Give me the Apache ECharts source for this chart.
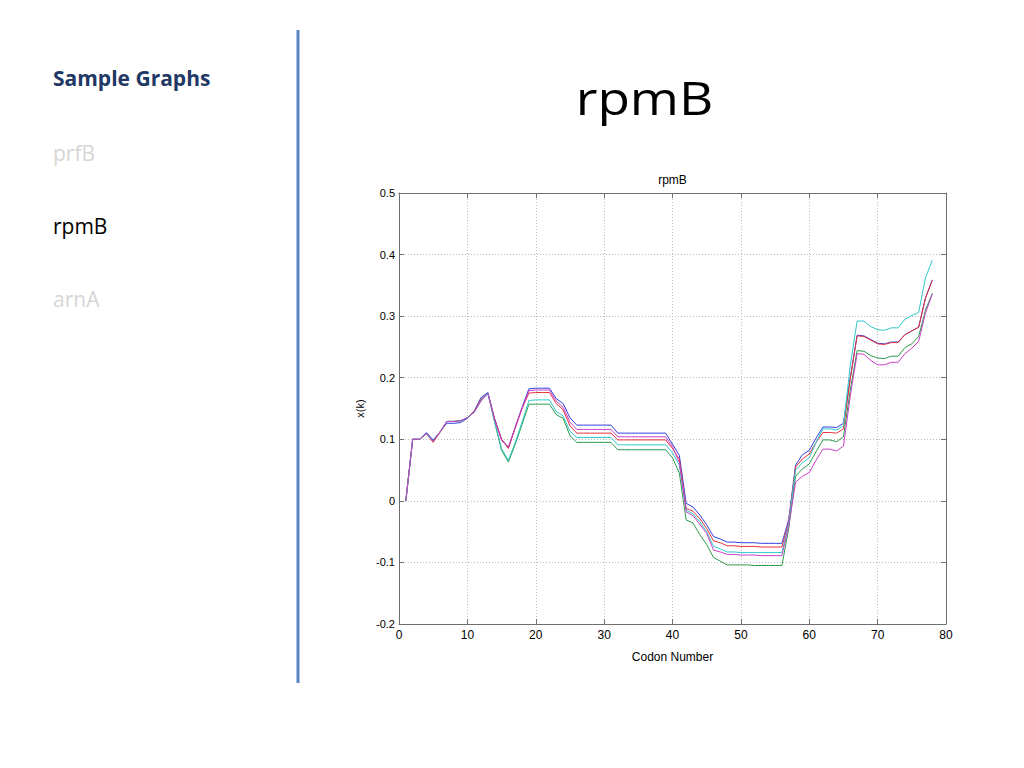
<!DOCTYPE html>
<html>
<head>
<meta charset="utf-8">
<script src="https://cdn.jsdelivr.net/npm/echarts@6/dist/echarts.min.js"></script>
<style>
html,body{margin:0;padding:0;background:#fff;}
#chart{width:1024px;height:768px;}
</style>
</head>
<body>
<div id="chart"></div>
<script>
// ---- data ----
const codons = [1,2,3,4,5,6,7,8,9,10,11,12,13,14,15,16,17,18,19,20,21,22,23,24,25,26,27,28,29,30,31,32,33,34,35,36,37,38,39,40,41,42,43,44,45,46,47,48,49,50,51,52,53,54,55,56,57,58,59,60,61,62,63,64,65,66,67,68,69,70,71,72,73,74,75,76,77,78];

const blueVals = [0,0.1,0.1,0.111,0.099,0.112,0.126,0.126,0.127,0.134,0.146,0.168,0.176,0.133,0.1,0.086,0.12,0.152,0.182,0.183,0.183,0.183,0.166,0.158,0.135,0.123,0.123,0.123,0.123,0.123,0.123,0.110,0.110,0.110,0.110,0.110,0.110,0.110,0.110,0.092,0.074,-0.004,-0.010,-0.023,-0.039,-0.058,-0.062,-0.067,-0.067,-0.068,-0.068,-0.068,-0.069,-0.069,-0.069,-0.069,-0.030,0.058,0.075,0.082,0.102,0.120,0.120,0.119,0.126,0.200,0.269,0.268,0.262,0.256,0.255,0.258,0.258,0.270,0.276,0.282,0.330,0.359];

const greenVals = [0,0.1,0.1,0.109,0.097,0.112,0.129,0.129,0.130,0.135,0.144,0.164,0.175,0.127,0.082,0.063,0.092,0.124,0.157,0.157,0.157,0.157,0.140,0.134,0.106,0.095,0.095,0.095,0.095,0.095,0.095,0.083,0.083,0.083,0.083,0.083,0.083,0.083,0.083,0.070,0.045,-0.031,-0.036,-0.055,-0.071,-0.092,-0.098,-0.104,-0.104,-0.104,-0.104,-0.105,-0.105,-0.105,-0.105,-0.105,-0.045,0.040,0.052,0.060,0.080,0.099,0.099,0.096,0.104,0.180,0.244,0.243,0.236,0.232,0.231,0.235,0.235,0.249,0.255,0.267,0.310,0.337];

const redVals = [0,0.1,0.1,0.109,0.095,0.111,0.129,0.129,0.130,0.135,0.145,0.165,0.175,0.132,0.1,0.085,0.119,0.150,0.175,0.176,0.176,0.176,0.158,0.148,0.122,0.110,0.110,0.110,0.110,0.110,0.110,0.099,0.099,0.099,0.099,0.099,0.099,0.099,0.099,0.085,0.068,-0.012,-0.017,-0.029,-0.045,-0.065,-0.068,-0.073,-0.073,-0.074,-0.074,-0.074,-0.075,-0.075,-0.075,-0.075,-0.033,0.055,0.068,0.076,0.095,0.111,0.111,0.110,0.117,0.198,0.268,0.267,0.261,0.255,0.254,0.257,0.257,0.270,0.276,0.282,0.329,0.358];

const cyanVals = [0,0.1,0.1,0.109,0.097,0.112,0.129,0.129,0.130,0.135,0.144,0.163,0.175,0.128,0.085,0.066,0.095,0.128,0.163,0.164,0.164,0.164,0.145,0.138,0.113,0.103,0.103,0.103,0.103,0.103,0.103,0.091,0.091,0.091,0.091,0.091,0.091,0.091,0.091,0.078,0.058,-0.015,-0.021,-0.034,-0.050,-0.074,-0.078,-0.083,-0.083,-0.084,-0.084,-0.084,-0.084,-0.084,-0.084,-0.084,-0.036,0.050,0.062,0.070,0.095,0.117,0.117,0.115,0.122,0.220,0.292,0.292,0.283,0.278,0.277,0.281,0.281,0.295,0.301,0.306,0.362,0.391];

const magentaVals = [0,0.1,0.1,0.109,0.097,0.112,0.129,0.129,0.130,0.135,0.144,0.162,0.174,0.131,0.098,0.088,0.118,0.150,0.179,0.180,0.180,0.180,0.162,0.152,0.128,0.116,0.116,0.116,0.116,0.116,0.116,0.104,0.104,0.104,0.104,0.104,0.104,0.104,0.104,0.088,0.062,-0.018,-0.024,-0.038,-0.053,-0.080,-0.083,-0.087,-0.087,-0.088,-0.088,-0.088,-0.089,-0.089,-0.089,-0.089,-0.040,0.030,0.040,0.046,0.066,0.084,0.084,0.081,0.089,0.170,0.239,0.238,0.228,0.221,0.221,0.225,0.225,0.239,0.248,0.259,0.305,0.336];

const xTicks = [0,10,20,30,40,50,60,70,80];
const yTicks = [-0.2,-0.1,0,0.1,0.2,0.3,0.4,0.5];
const sidebarItems = ['Sample Graphs','prfB','rpmB','arnA'];
const slideTitle = 'rpmB';
const plotTitle = 'rpmB';
const xName = 'Codon Number';
const yName = 'x(k)';

// ---- build ----
function pairs(vals){ return codons.map((c,i)=>[c, vals[i]]); }
const seriesDefs = [
  {name:'b', vals: blueVals,    color:'#3040e0'},
  {name:'g', vals: greenVals,   color:'#2a9a4a'},
  {name:'r', vals: redVals,     color:'#e8303a'},
  {name:'c', vals: cyanVals,    color:'#30c8c8'},
  {name:'m', vals: magentaVals, color:'#c840c8'}
];

const chart = echarts.init(document.getElementById('chart'), null, {renderer:'svg'});
const axisCol = '#6e6e6e';
const labelFont = 'Liberation Sans, Arial, sans-serif';
const slideFont = '"Open Sans", sans-serif';

const option = {
  animation:false,
  backgroundColor:'#fff',
  grid:{left:399, top:193, width:547, height:431, containLabel:false},
  xAxis:[
    {type:'value', min:xTicks[0], max:xTicks[xTicks.length-1], interval:10, position:'bottom',
     name:xName, nameLocation:'middle', nameGap:27,
     nameTextStyle:{color:'#000', fontSize:12, fontFamily:labelFont},
     axisLine:{show:true, onZero:false, lineStyle:{color:axisCol, width:1}},
     axisTick:{show:true, inside:true, length:5, lineStyle:{color:axisCol}},
     axisLabel:{color:'#000', fontSize:12, fontFamily:labelFont, margin:5},
     splitLine:{show:true, lineStyle:{color:'#bcbcbc', type:[1,2], width:1}}},
    {type:'value', min:xTicks[0], max:xTicks[xTicks.length-1], interval:10, position:'top',
     axisLine:{show:true, onZero:false, lineStyle:{color:axisCol, width:1}},
     axisTick:{show:true, inside:true, length:5, lineStyle:{color:axisCol}},
     axisLabel:{show:false}, splitLine:{show:false}}
  ],
  yAxis:[
    {type:'value', min:yTicks[0], max:yTicks[yTicks.length-1], interval:0.1, position:'left',
     name:yName, nameLocation:'middle', nameGap:32,
     nameTextStyle:{color:'#000', fontSize:11, fontFamily:labelFont},
     axisLine:{show:true, onZero:false, lineStyle:{color:axisCol, width:1}},
     axisTick:{show:true, inside:true, length:5, lineStyle:{color:axisCol}},
     axisLabel:{color:'#000', fontSize:11, fontFamily:labelFont, margin:4,
       formatter:(v)=>{ const r=Math.round(v*10)/10; return r===0?'0':String(r); }},
     splitLine:{show:true, lineStyle:{color:'#bcbcbc', type:[1,2], width:1}}},
    {type:'value', min:yTicks[0], max:yTicks[yTicks.length-1], interval:0.1, position:'right',
     axisLine:{show:true, onZero:false, lineStyle:{color:axisCol, width:1}},
     axisTick:{show:true, inside:true, length:5, lineStyle:{color:axisCol}},
     axisLabel:{show:false}, splitLine:{show:false}}
  ],
  series: seriesDefs.map(s=>({
    name:s.name, type:'line', xAxisIndex:0, yAxisIndex:0,
    data:pairs(s.vals), showSymbol:false, symbol:'none',
    lineStyle:{color:s.color, width:1}, itemStyle:{color:s.color}
  })),
  graphic:[
    {type:'text', x:672.5, y:180, style:{text:plotTitle, fill:'#000', font:'12px '+labelFont, align:'center', verticalAlign:'middle'}},
    {type:'text', x:644.5, y:97, scaleX:1.18, style:{text:slideTitle, fill:'#000', font:'45px '+slideFont, align:'center', verticalAlign:'middle'}},
    {type:'line', shape:{x1:298, y1:30, x2:298, y2:683}, style:{stroke:'#5b84c4', lineWidth:3}},
    {type:'text', x:53, y:78, style:{text:sidebarItems[0], fill:'#1f3864', font:'bold 21px '+slideFont, align:'left', verticalAlign:'middle'}},
    {type:'text', x:53, y:153, style:{text:sidebarItems[1], fill:'#d6d6d6', font:'21px '+slideFont, align:'left', verticalAlign:'middle'}},
    {type:'text', x:53, y:226, style:{text:sidebarItems[2], fill:'#000', font:'21px '+slideFont, align:'left', verticalAlign:'middle'}},
    {type:'text', x:53, y:299, style:{text:sidebarItems[3], fill:'#d6d6d6', font:'21px '+slideFont, align:'left', verticalAlign:'middle'}}
  ]
};
chart.setOption(option);
</script>
</body>
</html>
